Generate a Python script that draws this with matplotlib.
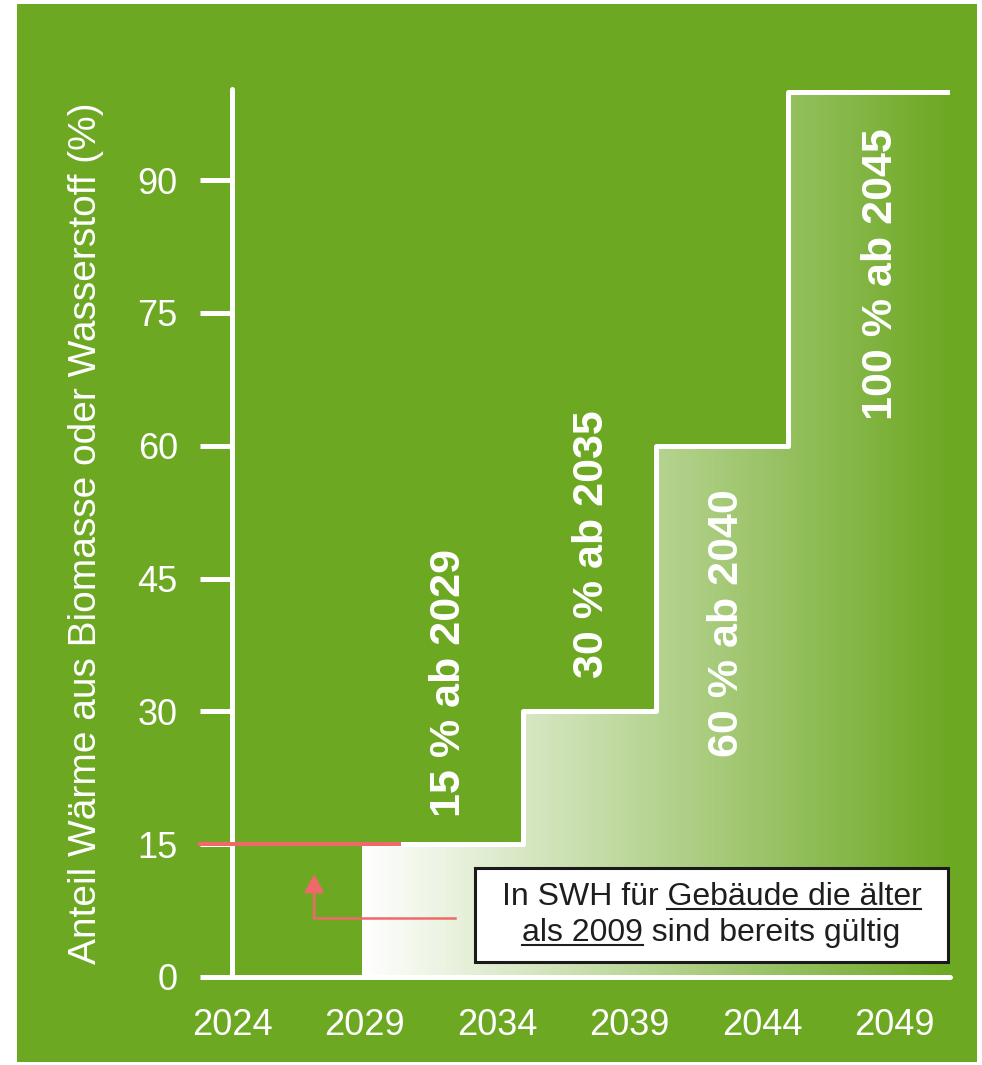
import numpy as np
import matplotlib.pyplot as plt
from matplotlib.colors import LinearSegmentedColormap
from matplotlib.patches import Rectangle
from matplotlib.lines import Line2D

plt.rcParams['font.family'] = ['Liberation Sans', 'DejaVu Sans']

green = '#6DA823'
red = '#F0696A'

# Pflichtanteil Biomasse / Wasserstoff (Stufen)
step_years = [2024, 2029, 2035, 2040, 2045, 2051.1]
step_share = [0, 15, 30, 60, 100, 100]

tick_years = [2024, 2029, 2034, 2039, 2044, 2049]
tick_share = [0, 15, 30, 45, 60, 75, 90]

step_labels = ['15 % ab 2029', '30 % ab 2035', '60 % ab 2040', '100 % ab 2045']
label_pos = [(2032.2, 33.2), (2037.6, 48.9), (2042.7, 40.0), (2048.5, 79.4)]

note_line1 = 'In SWH für Gebäude die älter'
note_line2 = 'als 2009 sind bereits gültig'
note_under1 = 'Gebäude die älter'
note_under2 = 'als 2009'

fig = plt.figure(figsize=(9.82, 10.65), dpi=100)
fig.patch.set_facecolor('white')
fig.add_artist(Rectangle((17/982, 3/1065), 960/982, 1058/1065,
                         transform=fig.transFigure, fc=green, ec='none', zorder=-10))

ax = fig.add_axes([232/982, 88/1065, 718/982, 888/1065])
ax.set_facecolor('none')

# gradient fill under the steps
cmap = LinearSegmentedColormap.from_list('wg', ['white', green])
grad = np.linspace(0, 1, 256).reshape(1, -1)
im = ax.imshow(grad, cmap=cmap, aspect='auto', interpolation='bicubic',
               extent=[step_years[1], step_years[-1], 0, max(step_share)], zorder=1)
poly = ax.fill_between(step_years, step_share, step='post', color='none', lw=0)
im.set_clip_path(poly.get_paths()[0], transform=ax.transData)

ax.step(step_years, step_share, where='post', color='white', lw=3.6,
        solid_capstyle='round', zorder=3)

ax.set_xlim(step_years[0], step_years[-1])
ax.set_ylim(0, 100.3)

# red marker line and arrow
ax.plot([2022.8, 2030.3], [15, 15], color=red, lw=2.9, clip_on=False, zorder=4)
ax.plot([2032.4, 2027.1], [6.7, 6.7], color=red, lw=1.8, zorder=4)
ax.annotate('', xy=(2027.1, 11.6), xytext=(2027.1, 6.7),
            arrowprops=dict(arrowstyle='-|>,head_length=0.55,head_width=0.3',
                            color=red, lw=1.8, shrinkA=0, shrinkB=0, mutation_scale=20),
            zorder=4)

for txt, (x, y) in zip(step_labels, label_pos):
    ax.text(x, y, txt, rotation=90, ha='center', va='center', color='white',
            fontsize=31, fontweight='bold', zorder=5)

note = ax.text(2042.1, 7.0, note_line1 + '\n' + note_line2, ha='center', va='center',
               multialignment='center', fontsize=23, color='#1e1e1e', zorder=7,
               linespacing=1.3)

ax.set_xticks(tick_years)
ax.set_yticks(tick_share)
ax.tick_params(axis='y', length=23, width=3.6, color='white', pad=16,
               labelsize=26, labelcolor='white')
ax.tick_params(axis='x', length=0, pad=22, labelsize=26, labelcolor='white')

for s in ['top', 'right']:
    ax.spines[s].set_visible(False)
for s in ['left', 'bottom']:
    ax.spines[s].set_color('white')
    ax.spines[s].set_linewidth(3.6)
    ax.spines[s].set_capstyle('round')

ax.set_ylabel('Anteil Wärme aus Biomasse oder Wasserstoff (%)', fontsize=28, color='white')
ax.yaxis.set_label_coords(-0.178, 0.5)

# box and underlines for the note
fig.canvas.draw()
r = fig.canvas.get_renderer()
prop = note.get_fontproperties()
ext = note.get_window_extent(r)
inv = fig.transFigure.inverted()

pad_x, pad_y = 27, 14
(bx0, by0), (bx1, by1) = inv.transform([(ext.x0 - pad_x, ext.y0 - pad_y),
                                        (ext.x1 + pad_x, ext.y1 + pad_y)])
ax.add_patch(Rectangle((bx0, by0), bx1 - bx0, by1 - by0, transform=fig.transFigure,
                       fc='white', ec='#1a1a1a', lw=2.2, zorder=6, clip_on=False))

cx = (ext.x0 + ext.x1) / 2
lp_w, lp_h, lp_d = r.get_text_width_height_descent('lp', prop, ismath=False)
w1, h1, d1 = r.get_text_width_height_descent(note_line1, prop, ismath=False)
w2, h2, d2 = r.get_text_width_height_descent(note_line2, prop, ismath=False)
wu1 = r.get_text_width_height_descent(note_under1, prop, ismath=False)[0]
wu2 = r.get_text_width_height_descent(note_under2, prop, ismath=False)[0]
base1 = ext.y1 - (max(h1, lp_h) - max(d1, lp_d))
base2 = ext.y0 + max(d2, lp_d)
off = 4
segs = [((cx + w1/2 - wu1, base1 - off), (cx + w1/2, base1 - off)),
        ((cx - w2/2, base2 - off), (cx - w2/2 + wu2, base2 - off))]
for a, b in segs:
    (fx0, fy0), (fx1, fy1) = inv.transform([a, b])
    ax.add_line(Line2D([fx0, fx1], [fy0, fy1], color='#1e1e1e', lw=1.5,
                       transform=fig.transFigure, zorder=8, clip_on=False))

fig.savefig('out.png', dpi=100)
